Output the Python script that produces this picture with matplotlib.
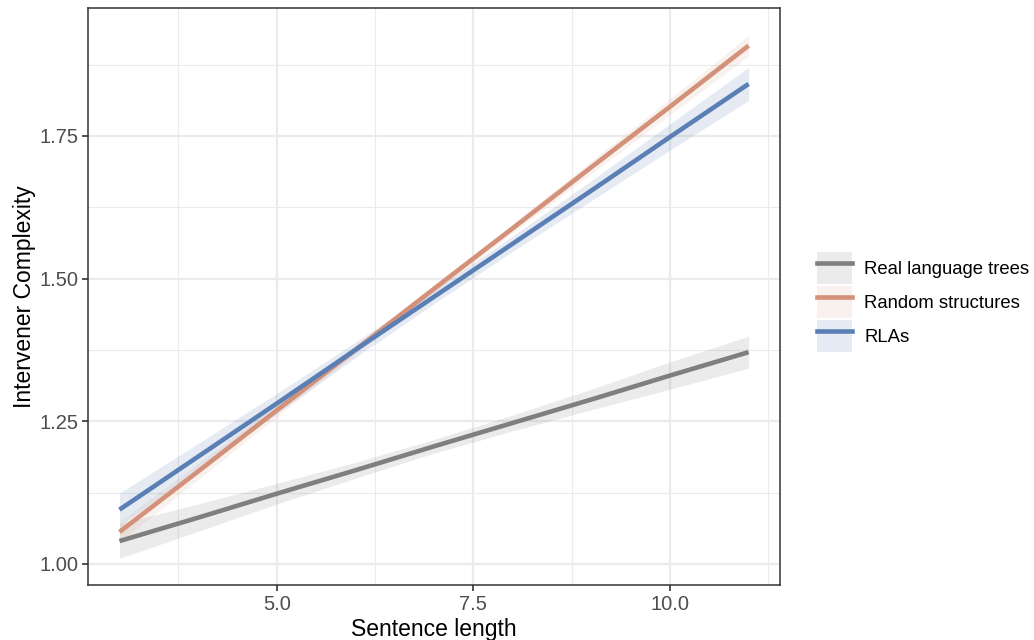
import numpy as np
import matplotlib
matplotlib.use("Agg")
import matplotlib.pyplot as plt
from matplotlib.patches import Patch
from matplotlib.lines import Line2D

plt.rcParams['font.family'] = ['Liberation Sans', 'DejaVu Sans']

# sentence length grid (x)
length = [3, 4, 5, 6, 7, 8, 9, 10, 11]

# fitted values
real_fit = [1.040, 1.081, 1.123, 1.164, 1.206, 1.247, 1.288, 1.330, 1.371]
random_fit = [1.056, 1.162, 1.269, 1.375, 1.482, 1.588, 1.695, 1.801, 1.908]
rla_fit = [1.095, 1.188, 1.281, 1.375, 1.468, 1.561, 1.654, 1.748, 1.841]

# half widths of the confidence bands
real_se = [0.030, 0.024, 0.018, 0.014, 0.012, 0.014, 0.018, 0.024, 0.028]
random_se = [0.018, 0.014, 0.011, 0.008, 0.007, 0.008, 0.011, 0.014, 0.018]
rla_se = [0.029, 0.023, 0.0175, 0.0135, 0.012, 0.0135, 0.0175, 0.023, 0.029]

labels = ['Real language trees', 'Random structures', 'RLAs']
colors = ['#7f7f7f', '#d4917a', '#5a7fb5']
band_alpha = [0.15, 0.12, 0.15]

x = np.array(length)
fits = [real_fit, random_fit, rla_fit]
ses = [real_se, random_se, rla_se]

fig = plt.figure(figsize=(10.34, 6.4), dpi=100)
ax = fig.add_axes([0.0851, 0.0859, 0.6693, 0.9016])

# grid like theme_bw
for v in [3.75, 6.25, 8.75, 11.25]:
    ax.axvline(v, color='#ebebeb', lw=0.8, zorder=0)
for v in [1.125, 1.375, 1.625, 1.875]:
    ax.axhline(v, color='#ebebeb', lw=0.8, zorder=0)
ax.grid(True, color='#ebebeb', lw=1.6, zorder=0)
ax.set_axisbelow(True)

for fit, se, c, a in zip(fits, ses, colors, band_alpha):
    fit = np.array(fit)
    se = np.array(se)
    ax.fill_between(x, fit - se, fit + se, color=c, alpha=a, lw=0, zorder=1)
for fit, c in zip(fits, colors):
    ax.plot(x, fit, color=c, lw=3.3, solid_capstyle='butt', zorder=2)

ax.set_xlim(2.6, 11.4)
ax.set_ylim(0.963, 1.974)
ax.set_xticks([5.0, 7.5, 10.0])
ax.set_xticklabels(['5.0', '7.5', '10.0'])
ax.set_yticks([1.00, 1.25, 1.50, 1.75])
ax.set_yticklabels(['1.00', '1.25', '1.50', '1.75'])
ax.tick_params(colors='#333333', labelcolor='#4d4d4d', labelsize=14.5,
               length=4, width=1.2, direction='out', pad=3)
for s in ax.spines.values():
    s.set_color('#333333')
    s.set_linewidth(1.1)

ax.set_xlabel('Sentence length', fontsize=16.5, labelpad=3)
ax.set_ylabel('Intervener Complexity', fontsize=16.5, labelpad=2)

handles = []
for c, a in zip(colors, band_alpha):
    handles.append((Patch(facecolor=c, alpha=a, edgecolor='none'),
                    Line2D([], [], color=c, lw=3.3)))

fig.legend(handles, labels, loc='center left', bbox_to_anchor=(0.7905, 0.528),
           frameon=False, fontsize=13.3, handlelength=1.85, handleheight=2.3,
           labelspacing=0.1, handletextpad=0.7, borderpad=0, borderaxespad=0)

fig.savefig('out.png', dpi=100)
